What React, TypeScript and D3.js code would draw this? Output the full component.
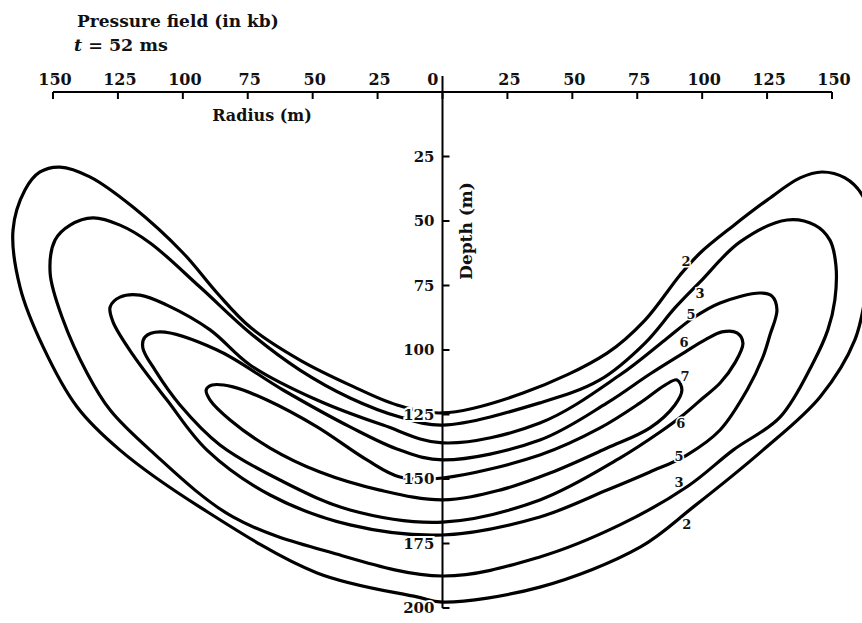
import React from 'react';
import * as d3 from 'd3';

const X_TICKS = [-150, -125, -100, -75, -50, -25, 0, 25, 50, 75, 100, 125, 150];
const Y_TICKS = [25, 50, 75, 100, 125, 150, 175, 200];
const LEVELS = [2, 3, 5, 6, 7];

// contour outlines: [radius (m, negative = left), depth (m)]
const contour2: [number, number][] = [
  [0, 124.4], [31, 116.7], [63.4, 101.2], [78, 88.4], [91.5, 70.9], [99.2, 62.4], [111.9, 51.9],
  [125, 41.9], [137.7, 33.3], [146.1, 31], [155, 33.3], [161.6, 39.9], [165.4, 53.5], [163.8, 72.9],
  [158.8, 96.1], [145.4, 118.2], [123.4, 138.8], [96.5, 160.9], [76.1, 176.4], [37.5, 191.9], [0, 197.7],
  [-9.8, 195.7], [-48.3, 186.4], [-93.4, 160.9], [-124.2, 138.8], [-140.7, 122.1], [-153.8, 98.8],
  [-162.7, 75.6], [-165.4, 53.5], [-160.8, 38], [-155, 31], [-147.3, 29.1], [-135.8, 32.9], [-119.2, 44.6],
  [-99.9, 62.4], [-86.8, 77.9], [-74.1, 91.1], [-54.9, 103.9], [-35.6, 113.6], [-17.5, 121.3],
];
const contour3: [number, number][] = [
  [0, 129.1], [37.5, 120.5], [60.6, 111.6], [78, 97.3], [89.5, 83.7], [99.2, 73.6], [114.6, 58.1],
  [132.7, 49.6], [143.4, 51.6], [149.2, 57.4], [151.5, 67.1], [151.1, 80.6], [148.4, 92.2], [142.7, 105],
  [130, 126], [111.9, 138.8], [94.6, 152.7], [68.3, 167.8], [37.5, 180.2], [0, 187.6],
  [-42.2, 178.7], [-80.7, 164.7], [-112.6, 138.8], [-128, 123.3], [-136.9, 108.9], [-146.1, 88.4],
  [-151.1, 70.2], [-149.2, 57.4], [-143.4, 51.6], [-134.6, 48.8], [-124.2, 51.6], [-112.6, 58.5],
  [-93.4, 75.6], [-74.1, 93.4], [-54.9, 107.8], [-35.6, 118.6], [-16.4, 126],
];
const contour5: [number, number][] = [
  [0, 136], [37.5, 128.3], [68.3, 109.7], [85.7, 96.1], [96.5, 87.6], [106.9, 81.8], [122.3, 77.9],
  [126.9, 79.1], [128.8, 84.5], [126.1, 94.2], [123.4, 102.7], [117.3, 115.5], [106.9, 131], [94.1, 140.7],
  [79.9, 147.3], [63.4, 154.3], [37.5, 164.7], [0, 171.7],
  [-35.6, 167.8], [-66.4, 156.2], [-90.7, 138.8], [-106.1, 119.4], [-119.2, 101.9], [-126.9, 89.1],
  [-128, 83.3], [-124.2, 79.5], [-116.5, 78.7], [-106.1, 82.6], [-89.5, 92.2], [-74.1, 105.8],
  [-48.3, 119.4], [-22.9, 129.1],
];
const contour6: [number, number][] = [
  [0, 142.6], [37.5, 134.9], [63.4, 120.5], [79.9, 109.3], [93.4, 100.8], [101.1, 96.1], [107.6, 93],
  [113.4, 93.4], [115.7, 97.3], [112.6, 105], [106.9, 112.8], [100.3, 118.6], [92.2, 125.6], [83.8, 131.8],
  [68.3, 141.9], [37.5, 158.1], [0, 166.7],
  [-35.6, 162], [-62.6, 150.4], [-85.7, 136.8], [-101.1, 121.3], [-110.7, 107.8], [-115.4, 99.2],
  [-114.6, 95], [-108.8, 93], [-86.8, 100], [-61.4, 115.5], [-35.6, 129.8], [-16.4, 138.8],
];
const contour7: [number, number][] = [
  [0, 149.6], [37.5, 140.7], [60.7, 130.2], [76.1, 120.5], [85.7, 113.6], [90.3, 111.6], [92.2, 115.5],
  [89.5, 121.3], [79.9, 130.2], [63.4, 138], [41.4, 147.7], [22.1, 154.3], [0, 158.1],
  [-24.1, 154.3], [-47.2, 147.3], [-66.4, 138], [-81.8, 127.1], [-89.5, 119.4], [-91, 115.5],
  [-88.7, 113.6], [-80.7, 114.3], [-67.6, 119.4], [-48.3, 129.8], [-29.1, 142.6], [-16.4, 149.2],
];
const CONTOURS = [contour2, contour3, contour5, contour6, contour7];

const LABEL_VALUES = [2, 3, 5, 6, 7, 6, 5, 3, 2];
const LABEL_R = [93.8, 99.2, 95.7, 93, 93.4, 91.8, 91.1, 91.1, 94.1];
const LABEL_D = [65.5, 77.9, 86, 96.9, 110.1, 128.3, 141.1, 151.2, 167.4];

const W = 862;
const H = 623;
const FONT = "'DejaVu Serif', serif";

export default function App() {
  const x = d3.scaleLinear().domain([-150, 150]).range([53, 832]);
  const y = d3.scaleLinear().domain([0, 200]).range([92, 608]);
  const line = d3
    .line<[number, number]>()
    .x((d) => x(d[0]))
    .y((d) => y(d[1]))
    .curve(d3.curveCatmullRomClosed.alpha(0.5));

  const x0 = x(0);
  const y0 = y(0);

  return (
    <svg width={W} height={H} style={{ position: 'absolute', left: 0, top: 0, background: '#fff' }}>
      <rect width={W} height={H} fill="#fff" />
      {/* title */}
      <text x={77} y={27} fontFamily={FONT} fontWeight="bold" fontSize={17} fill="#111">
        Pressure field (in kb)
      </text>
      <text x={74} y={51} fontFamily={FONT} fontWeight="bold" fontSize={17.5} fill="#111">
        <tspan fontStyle="italic">t</tspan> = 52 ms
      </text>

      {/* contours */}
      {CONTOURS.map((c, i) => (
        <path key={LEVELS[i]} d={line(c) || ''} fill="none" stroke="#000" strokeWidth={3.2} strokeLinejoin="round" />
      ))}

      {/* top radius axis */}
      <line x1={x(-150)} x2={x(150)} y1={y0} y2={y0} stroke="#000" strokeWidth={2} />
      {X_TICKS.map((t) => (
        <g key={'xt' + t}>
          <line x1={x(t)} x2={x(t)} y1={y0} y2={y0 + 7} stroke="#000" strokeWidth={2} />
          <text
            x={t === 0 ? x(t) - 4 : x(t) + 2}
            y={y0 - 7}
            textAnchor={t === 0 ? 'end' : 'middle'}
            fontFamily={FONT}
            fontWeight="bold"
            fontSize={16}
            fill="#111"
          >
            {Math.abs(t)}
          </text>
        </g>
      ))}
      <text x={262} y={121} textAnchor="middle" fontFamily={FONT} fontWeight="bold" fontSize={16} fill="#111">
        Radius (m)
      </text>

      {/* depth axis */}
      <line x1={x0} x2={x0} y1={y0 - 16} y2={y(200)} stroke="#000" strokeWidth={2} />
      {Y_TICKS.map((t) => (
        <g key={'yt' + t}>
          <line x1={x0} x2={x0 + 7} y1={y(t)} y2={y(t)} stroke="#000" strokeWidth={2} />
          <text
            x={x0 - 8}
            y={y(t)}
            dy="0.36em"
            textAnchor="end"
            fontFamily={FONT}
            fontWeight="bold"
            fontSize={15}
            fill="#111"
            stroke="#fff"
            strokeWidth={4}
            paintOrder="stroke"
          >
            {t}
          </text>
        </g>
      ))}
      <text
        transform={`translate(${x0 + 29},${231}) rotate(-90)`}
        textAnchor="middle"
        fontFamily={FONT}
        fontWeight="bold"
        fontSize={17}
        fill="#111"
      >
        Depth (m)
      </text>

      {/* contour labels */}
      {LABEL_VALUES.map((v, i) => (
        <text
          key={'cl' + i}
          x={x(LABEL_R[i])}
          y={y(LABEL_D[i])}
          dy="0.36em"
          textAnchor="middle"
          fontFamily={FONT}
          fontWeight="bold"
          fontSize={13}
          fill="#111"
          stroke="#fff"
          strokeWidth={3}
          paintOrder="stroke"
        >
          {v}
        </text>
      ))}
    </svg>
  );
}
